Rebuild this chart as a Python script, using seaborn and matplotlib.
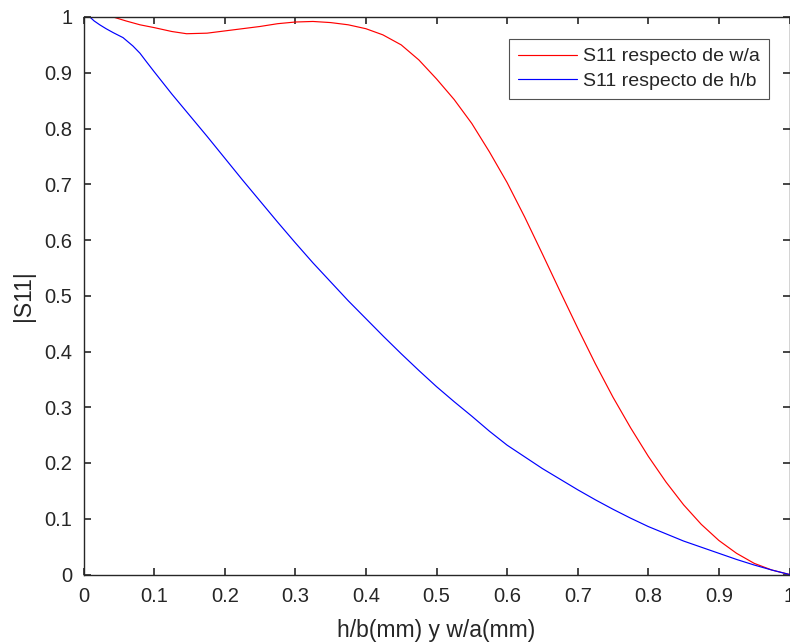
import numpy as np
import pandas as pd
import matplotlib
matplotlib.use("Agg")
import matplotlib.pyplot as plt
import seaborn as sns

# Data
x_wa = [0.042, 0.06, 0.08, 0.1, 0.125, 0.146, 0.175, 0.2, 0.25, 0.275, 0.3,
        0.325, 0.35, 0.375, 0.4, 0.424, 0.45, 0.475, 0.5, 0.525, 0.55, 0.575,
        0.6, 0.625, 0.65, 0.675, 0.7, 0.725, 0.75, 0.775, 0.8, 0.825, 0.85,
        0.875, 0.9, 0.925, 0.95, 0.975, 1.0]
s11_wa = [1.0, 0.993, 0.986, 0.981, 0.974, 0.970, 0.971, 0.975, 0.983, 0.988,
          0.991, 0.992, 0.990, 0.986, 0.979, 0.968, 0.950, 0.923, 0.889, 0.852,
          0.809, 0.758, 0.703, 0.641, 0.575, 0.508, 0.442, 0.378, 0.318, 0.263,
          0.212, 0.166, 0.125, 0.090, 0.061, 0.038, 0.020, 0.008, 0.0]

x_hb = [0.009, 0.015, 0.023, 0.032, 0.042, 0.056, 0.070, 0.080, 0.089, 0.1,
        0.125, 0.15, 0.175, 0.2, 0.225, 0.25, 0.275, 0.3, 0.325, 0.35, 0.375,
        0.4, 0.425, 0.45, 0.475, 0.5, 0.525, 0.55, 0.575, 0.6, 0.625, 0.65,
        0.675, 0.7, 0.725, 0.75, 0.775, 0.8, 0.825, 0.85, 0.875, 0.9, 0.925,
        0.95, 0.975, 1.0]
s11_hb = [1.0, 0.993, 0.986, 0.979, 0.972, 0.963, 0.948, 0.935, 0.920, 0.902,
          0.862, 0.824, 0.786, 0.747, 0.708, 0.670, 0.632, 0.595, 0.559, 0.525,
          0.491, 0.459, 0.427, 0.396, 0.366, 0.337, 0.310, 0.284, 0.257, 0.232,
          0.211, 0.190, 0.171, 0.152, 0.134, 0.117, 0.101, 0.086, 0.073, 0.060,
          0.049, 0.038, 0.027, 0.017, 0.008, 0.0]

series_names = ["S11 respecto de w/a", "S11 respecto de h/b"]
series_colors = ["#ff0000", "#0000ff"]

x_ticks = [0, 0.1, 0.2, 0.3, 0.4, 0.5, 0.6, 0.7, 0.8, 0.9, 1]
x_tick_labels = ["0", "0.1", "0.2", "0.3", "0.4", "0.5", "0.6", "0.7", "0.8", "0.9", "1"]
y_ticks = [0, 0.1, 0.2, 0.3, 0.4, 0.5, 0.6, 0.7, 0.8, 0.9, 1]
y_tick_labels = ["0", "0.1", "0.2", "0.3", "0.4", "0.5", "0.6", "0.7", "0.8", "0.9", "1"]

x_label = "h/b(mm) y w/a(mm)"
y_label = "|S11|"

df = pd.concat([
    pd.DataFrame({"x": x_wa, "y": s11_wa, "serie": series_names[0]}),
    pd.DataFrame({"x": x_hb, "y": s11_hb, "serie": series_names[1]}),
], ignore_index=True)

sns.set_style("white")
plt.rcParams["font.family"] = ["Liberation Sans", "DejaVu Sans"]

axcol = "#262626"
fig = plt.figure(figsize=(7.9, 6.44), dpi=100)
ax = fig.add_axes([83.5 / 790, 69.5 / 644, 706 / 790, 557.5 / 644])

sns.lineplot(data=df, x="x", y="y", hue="serie", hue_order=series_names,
             palette=series_colors, estimator=None, sort=False,
             linewidth=0.85, ax=ax)

ax.set_xlim(0, 1)
ax.set_ylim(0, 1)
ax.set_xticks(x_ticks)
ax.set_xticklabels(x_tick_labels)
ax.set_yticks(y_ticks)
ax.set_yticklabels(y_tick_labels)
ax.tick_params(axis="both", which="both", direction="in", length=5, width=1.2,
               color=axcol, labelcolor=axcol, labelsize=14.5,
               top=True, right=True, bottom=True, left=True)
ax.tick_params(axis="x", pad=9)
ax.tick_params(axis="y", pad=8)
for s in ax.spines.values():
    s.set_visible(True)
    s.set_color(axcol)
    s.set_linewidth(1.0)

ax.set_xlabel(x_label, fontsize=16.5, color=axcol, labelpad=9)
ax.set_ylabel(y_label, fontsize=16.5, color=axcol, labelpad=7)

leg = ax.legend(loc="upper right",
                bbox_to_anchor=((769 - 83.5) / 706, (574.5 - 39) / 557.5),
                borderaxespad=0, fontsize=14, frameon=True, fancybox=False,
                handlelength=3.0, handletextpad=0.35, borderpad=0.45,
                labelspacing=0.35, title=None)
leg.get_frame().set_edgecolor(axcol)
leg.get_frame().set_linewidth(0.8)
for t in leg.get_texts():
    t.set_color(axcol)

fig.savefig("out.png", dpi=100)
